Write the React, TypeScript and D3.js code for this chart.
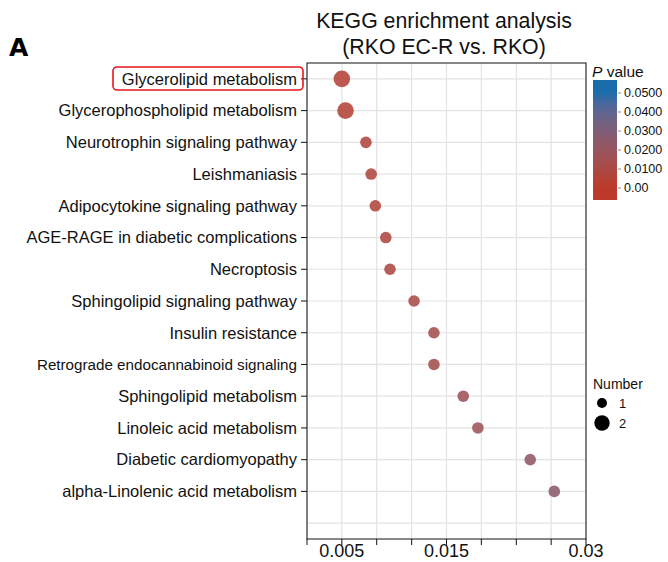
import React from "react";
import * as d3 from "d3";

const pathways = [
  "Glycerolipid metabolism",
  "Glycerophospholipid metabolism",
  "Neurotrophin signaling pathway",
  "Leishmaniasis",
  "Adipocytokine signaling pathway",
  "AGE-RAGE in diabetic complications",
  "Necroptosis",
  "Sphingolipid signaling pathway",
  "Insulin resistance",
  "Retrograde endocannabinoid signaling",
  "Sphingolipid metabolism",
  "Linoleic acid metabolism",
  "Diabetic cardiomyopathy",
  "alpha-Linolenic acid metabolism",
];
const pValues = [
  0.005, 0.00535, 0.0073, 0.0078, 0.0082, 0.0092, 0.0096, 0.0119, 0.0138,
  0.0138, 0.0166, 0.018, 0.023, 0.0253,
];
const numbers = [2, 2, 1, 1, 1, 1, 1, 1, 1, 1, 1, 1, 1, 1];

const xTicks = [
  0.00167, 0.005, 0.00833, 0.01167, 0.015, 0.01833, 0.02167, 0.025, 0.02833,
];
const xTickLabels = ["", "0.005", "", "", "0.015", "", "", "", "0.03"];
const colorTicks = [0.05, 0.04, 0.03, 0.02, 0.01, 0];
const colorTickLabels = ["0.0500", "0.0400", "0.0300", "0.0200", "0.0100", "0.00"];
const sizeLegend = [1, 2];

const margin = { top: 63, right: 82, bottom: 23, left: 307 };
const W = 668;
const H = 562;
const font = "Arial, 'Liberation Sans', sans-serif";

export default function App() {
  const plotW = W - margin.left - margin.right;
  const plotH = H - margin.top - margin.bottom;

  const x = d3.scaleLinear().domain([0.00167, 0.02833]).range([0, plotW]);
  const y = d3
    .scalePoint<string>()
    .domain([...pathways, ""])
    .range([0, plotH])
    .padding(0.5);
  const color = d3
    .scaleLinear<string>()
    .domain([0, 0.05])
    .range(["#bd3a2a", "#1a6cab"])
    .interpolate(d3.interpolateLab);
  const r = d3.scaleOrdinal<number, number>().domain([1, 2]).range([5.8, 8.3]);

  // colour bar
  const barY = d3.scaleLinear().domain([0, 0.05]).range([188, 93]);
  const barTop = 80;
  const barBottom = 200;
  const stops = d3.range(0, 11).map((i) => {
    const yy = barTop + ((barBottom - barTop) * i) / 10;
    const v = Math.max(0, Math.min(0.05, barY.invert(yy)));
    return { offset: `${i * 10}%`, c: color(v) };
  });

  return (
    <svg
      width={W}
      height={H}
      style={{ position: "absolute", left: 0, top: 0, background: "#fff" }}
      fontFamily={font}
    >
      <defs>
        <linearGradient id="pgrad" x1="0" y1="0" x2="0" y2="1">
          {stops.map((s, i) => (
            <stop key={i} offset={s.offset} stopColor={s.c} />
          ))}
        </linearGradient>
      </defs>

      <text x={9} y={56} fontSize={25} fontWeight={900} fontFamily="'DejaVu Sans', Arial, sans-serif">
        A
      </text>

      <text x={444} y={28} fontSize={21.3} textAnchor="middle" fill="#111">
        KEGG enrichment analysis
      </text>
      <text x={444} y={54} fontSize={21.3} textAnchor="middle" fill="#111">
        (RKO EC-R vs. RKO)
      </text>

      <g transform={`translate(${margin.left},${margin.top})`}>
        {xTicks.map((t, i) => (
          <line key={"gx" + i} x1={x(t)} x2={x(t)} y1={0} y2={plotH} stroke="#e3e3e3" strokeWidth={1.2} />
        ))}
        {[...pathways, ""].map((p, i) => (
          <line key={"gy" + i} x1={0} x2={plotW} y1={y(p)} y2={y(p)} stroke="#e3e3e3" strokeWidth={1.2} />
        ))}
        <rect x={0} y={0} width={plotW} height={plotH} fill="none" stroke="#111" strokeWidth={1} />

        {pathways.map((p, i) => (
          <circle
            key={p}
            cx={x(pValues[i])}
            cy={y(p)}
            r={r(numbers[i])}
            fill={color(pValues[i])}
            fillOpacity={0.88}
          />
        ))}

        {pathways.map((p, i) => (
          <g key={"yl" + i} transform={`translate(0,${y(p)})`}>
            <line x1={-6} x2={0} stroke="#111" />
            <text
              x={-10}
              dy="0.35em"
              textAnchor="end"
              fontSize={p.startsWith("Retrograde") ? 15.2 : 16.5}
              fill="#111"
            >
              {p}
            </text>
          </g>
        ))}

        {xTicks.map((t, i) => (
          <g key={"xl" + i} transform={`translate(${x(t)},${plotH})`}>
            <line y1={0} y2={6} stroke="#111" />
            <text y={18} textAnchor="middle" fontSize={18} fill="#111">
              {xTickLabels[i]}
            </text>
          </g>
        ))}
      </g>

      {/* highlight box */}
      <rect x={113} y={67} width={190} height={23} rx={4} fill="none" stroke="#e8141c" strokeWidth={1.6} />

      {/* P value legend */}
      <text x={592} y={77} fontSize={15.5} fill="#111">
        <tspan fontStyle="italic">P</tspan> value
      </text>
      <rect x={593} y={barTop} width={24} height={barBottom - barTop} fill="url(#pgrad)" />
      {colorTicks.map((t, i) => (
        <g key={"ct" + i} transform={`translate(617,${barY(t)})`}>
          <line x1={1} x2={4} stroke="#888" />
          <text x={7} dy="0.35em" fontSize={12.5} fill="#111">
            {colorTickLabels[i]}
          </text>
        </g>
      ))}

      {/* Number legend */}
      <text x={593} y={389} fontSize={14} fill="#111">
        Number
      </text>
      {sizeLegend.map((n, i) => (
        <g key={"sl" + i} transform={`translate(602,${403 + i * 20})`}>
          <circle r={n === 1 ? 5 : 7.7} fill="#000" />
          <text x={17} dy="0.35em" fontSize={13} fill="#111">
            {n}
          </text>
        </g>
      ))}
    </svg>
  );
}
